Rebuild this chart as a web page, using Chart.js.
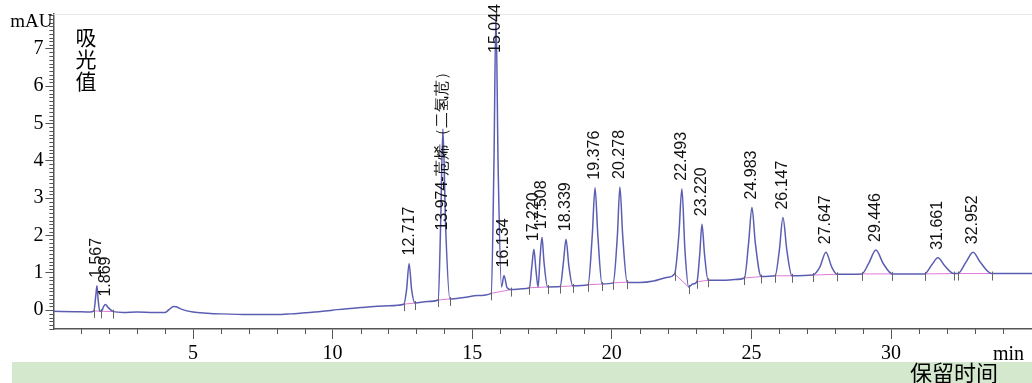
<!DOCTYPE html>
<html>
<head>
<meta charset="utf-8">
<script src="https://cdn.jsdelivr.net/npm/chart.js@4.4.1/dist/chart.umd.min.js"></script>
<style>
  body { margin: 0; background: #fff; }
  canvas { display: block; }
</style>
</head>
<body>
<canvas id="chart" width="1032" height="383"></canvas>
<script>
// chromatogram trace (min, mAU)
const traceTime = [
  0, 0.8, 1.3, 1.45, 1.52, 1.56, 1.6, 1.66, 1.72, 1.8, 1.87, 1.95, 2.15, 2.5, 3.0, 3.6, 4.0,
  4.15, 4.3, 4.4, 4.6, 5.0, 5.5, 6.0, 7.0, 8.0, 8.5, 9.0, 9.5, 10.0, 10.5, 11.0, 11.5, 12.0,
  12.55, 12.65, 12.74, 12.83, 12.95, 13.4, 13.78, 13.87, 13.95, 14.05, 14.2, 14.7, 15.2,
  15.68, 15.78, 15.85, 15.93, 16.05, 16.14, 16.25, 16.4, 16.8, 17.05, 17.14, 17.21, 17.28,
  17.36, 17.43, 17.5, 17.57, 17.7, 18.15, 18.27, 18.36, 18.46, 18.6, 19.15, 19.3, 19.4, 19.5,
  19.65, 20.05, 20.2, 20.29, 20.39, 20.55, 21.0, 21.5, 22.0, 22.25, 22.4, 22.51, 22.62, 22.75,
  22.9, 23.05, 23.15, 23.23, 23.32, 23.45, 24.0, 24.4, 24.75, 24.9, 25.02, 25.14, 25.35,
  25.85, 26.0, 26.13, 26.27, 26.45, 27.2, 27.45, 27.67, 27.88, 28.07, 28.95, 29.2, 29.46,
  29.72, 30.05, 31.2, 31.45, 31.68, 31.93, 32.25, 32.4, 32.68, 32.94, 33.2, 33.6, 35.05
];
const traceAbs = [
  -0.03, -0.04, -0.05, -0.02, 0.4, 0.65, 0.3, -0.02, -0.03, 0.1, 0.15, 0.08, -0.04, -0.06, -0.05, -0.06, -0.06,
  0.02, 0.1, 0.09, 0.02, -0.05, -0.08, -0.1, -0.12, -0.12, -0.1, -0.07, -0.04, 0.0, 0.04, 0.07, 0.1, 0.12,
  0.16, 0.55, 1.25, 0.55, 0.19, 0.23, 0.27, 2.3, 4.85, 2.2, 0.3, 0.34, 0.39,
  0.45, 4.0, 7.9, 3.8, 0.62, 0.93, 0.6, 0.55, 0.57, 0.6, 1.2, 1.63, 1.1,
  0.62, 1.4, 1.95, 1.3, 0.62, 0.63, 1.3, 1.9, 1.2, 0.65, 0.68, 2.0, 3.28, 2.0,
  0.7, 0.73, 2.0, 3.3, 2.0, 0.75, 0.74, 0.78, 0.88, 0.97, 2.0, 3.25, 1.6, 0.62,
  0.7, 0.76, 1.5, 2.3, 1.5, 0.8, 0.8, 0.82, 0.86, 1.8, 2.75, 1.8, 0.9,
  0.92, 1.6, 2.48, 1.6, 0.92, 0.94, 1.15, 1.55, 1.15, 0.96, 0.97, 1.25, 1.61,
  1.25, 0.97, 0.97, 1.2, 1.4, 1.18, 0.98, 0.98, 1.28, 1.55, 1.28, 0.98, 0.98
];

// integration baselines (start / end of each peak group)
const baseStartTime = [1.45, 1.72, 12.55, 13.78, 15.68, 17.05, 18.15, 19.15, 20.05, 22.25, 23.05, 24.75, 25.85, 27.2, 28.95, 31.2, 32.4];
const baseStartAbs  = [-0.02, -0.03, 0.16, 0.27, 0.45, 0.6, 0.63, 0.68, 0.73, 0.97, 0.76, 0.86, 0.92, 0.94, 0.97, 0.97, 0.98];
const baseEndTime   = [1.72, 2.15, 12.95, 14.2, 16.4, 17.7, 18.6, 19.65, 20.55, 22.75, 23.45, 25.35, 26.45, 28.07, 30.05, 32.25, 33.6];
const baseEndAbs    = [-0.03, -0.04, 0.19, 0.3, 0.55, 0.62, 0.65, 0.7, 0.75, 0.62, 0.8, 0.9, 0.92, 0.96, 0.97, 0.98, 0.98];

// peak annotations
const peakTime = [1.56, 1.87, 12.74, 13.95, 15.85, 16.14, 17.21, 17.5, 18.36, 19.4, 20.29, 22.51, 23.23, 25.02, 26.13, 27.67, 29.46, 31.68, 32.94];
const peakTop  = [0.65, 0.15, 1.25, 4.85, 7.9, 0.93, 1.63, 1.95, 1.9, 3.28, 3.3, 3.25, 2.3, 2.75, 2.48, 1.55, 1.61, 1.4, 1.55];
const peakText = ['1.567', '1.869', '12.717', '13.974-苊烯（二氢苊）', '15.044', '16.134', '17.220', '17.508', '18.339',
  '19.376', '20.278', '22.493', '23.220', '24.983', '26.147', '27.647', '29.446', '31.661', '32.952'];

const xTickValues = [5, 10, 15, 20, 25, 30];
const yTickValues = [0, 1, 2, 3, 4, 5, 6, 7];

const AXIS = '#555';
const SERIF = '"Liberation Serif", "Times New Roman", serif';
const CJK = '"Noto Sans CJK SC", sans-serif';

const baseData = [];
baseStartTime.forEach((t, i) => {
  baseData.push({ x: t, y: baseStartAbs[i] });
  baseData.push({ x: baseEndTime[i], y: baseEndAbs[i] });
  baseData.push({ x: baseEndTime[i], y: null });
});

const decor = {
  id: 'decor',
  beforeDraw(chart) {
    const ctx = chart.ctx;
    ctx.save();
    ctx.fillStyle = '#fff';
    ctx.fillRect(0, 0, chart.width, chart.height);
    ctx.fillStyle = '#d3e8cd';
    ctx.fillRect(12, 362, chart.width - 12, chart.height - 362);
    ctx.restore();
  },
  afterDraw(chart) {
    const ctx = chart.ctx;
    const a = chart.chartArea;
    const xs = chart.scales.x, ys = chart.scales.y;
    const opts = chart.options.plugins.decor;
    ctx.save();

    // faint top frame
    ctx.strokeStyle = '#e6e6e6';
    ctx.lineWidth = 1;
    ctx.beginPath();
    ctx.moveTo(a.left, a.top + 0.5);
    ctx.lineTo(a.right, a.top + 0.5);
    ctx.stroke();

    // minor ticks
    ctx.strokeStyle = AXIS;
    ctx.beginPath();
    for (let m = 1; m <= 35; m++) {
      if (m % 5 === 0) continue;
      const px = Math.round(xs.getPixelForValue(m)) + 0.5;
      ctx.moveTo(px, a.bottom);
      ctx.lineTo(px, a.bottom + 5);
    }
    for (let k = -5; k <= 79; k++) {
      if (k % 10 === 0) continue;
      const py = Math.round(ys.getPixelForValue(k / 10)) + 0.5;
      ctx.moveTo(a.left - 4, py);
      ctx.lineTo(a.left, py);
    }
    ctx.stroke();

    // peak boundary marks
    ctx.strokeStyle = '#666';
    ctx.beginPath();
    baseStartTime.concat(baseEndTime).forEach((t, i) => {
      const v = i < baseStartTime.length ? baseStartAbs[i] : baseEndAbs[i - baseStartTime.length];
      const px = Math.round(xs.getPixelForValue(t)) + 0.5;
      const py = ys.getPixelForValue(v);
      ctx.moveTo(px, py - 2);
      ctx.lineTo(px, py + 7);
    });
    ctx.stroke();

    // axis captions
    ctx.fillStyle = '#000';
    ctx.font = '19px ' + SERIF;
    ctx.textAlign = 'right';
    ctx.textBaseline = 'alphabetic';
    ctx.fillText('mAU', a.left - 1, 27);
    ctx.font = '20px ' + SERIF;
    ctx.textAlign = 'left';
    ctx.fillText('min', 993, 360);

    ctx.font = '21px ' + CJK;
    ctx.textAlign = 'center';
    ctx.textBaseline = 'middle';
    ['吸', '光', '值'].forEach((c, i) => ctx.fillText(c, 86, 37 + i * 22));
    ctx.font = '22px ' + CJK;
    ctx.fillText('保留时间', 954, 373);

    // peak labels, rotated
    ctx.font = '16px "Liberation Sans", Arial, sans-serif';
    ctx.fillStyle = '#111';
    ctx.textAlign = 'left';
    ctx.textBaseline = 'middle';
    peakText.forEach((txt, i) => {
      const px = xs.getPixelForValue(peakTime[i]);
      const w = ctx.measureText(txt).width;
      let bottom;
      if (opts.labelBase[i] !== undefined) bottom = ys.getPixelForValue(opts.labelBase[i]);
      else bottom = ys.getPixelForValue(peakTop[i]) - 8;
      if (bottom - w < 4) bottom = 4 + w;
      ctx.save();
      ctx.translate(px, bottom);
      ctx.rotate(-Math.PI / 2);
      ctx.fillText(txt, 0, 0);
      ctx.restore();
    });
    ctx.restore();
  }
};

new Chart(document.getElementById('chart'), {
  type: 'line',
  data: {
    datasets: [
      {
        label: 'signal',
        data: traceTime.map((t, i) => ({ x: t, y: traceAbs[i] })),
        borderColor: '#5b5db2',
        borderWidth: 1.5,
        pointRadius: 0,
        cubicInterpolationMode: 'monotone'
      },
      {
        label: 'baseline',
        data: baseData,
        borderColor: '#e27ad8',
        borderWidth: 1,
        pointRadius: 0,
        spanGaps: false
      }
    ]
  },
  options: {
    responsive: false,
    animation: false,
    layout: { padding: { top: 12, right: 0, left: 0, bottom: 0 } },
    plugins: {
      legend: { display: false },
      tooltip: { enabled: false },
      decor: { labelBase: { 3: 2.13 } }
    },
    scales: {
      x: {
        type: 'linear',
        min: 0,
        max: 35.05,
        afterFit(s) { s.height = 54; },
        afterBuildTicks(s) { s.ticks = xTickValues.map(v => ({ value: v })); },
        grid: { drawOnChartArea: false, tickLength: 10, tickColor: AXIS },
        border: { color: AXIS, width: 1.5 },
        ticks: { color: '#000', font: { family: SERIF, size: 20 }, padding: 3, maxRotation: 0, autoSkip: false }
      },
      y: {
        min: -0.505,
        max: 7.93,
        afterFit(s) { s.width = 53.4; },
        afterBuildTicks(s) { s.ticks = yTickValues.map(v => ({ value: v })); },
        grid: { drawOnChartArea: false, tickLength: 8, tickColor: AXIS },
        border: { color: AXIS, width: 1.5 },
        ticks: { color: '#000', font: { family: SERIF, size: 20 }, padding: 2, autoSkip: false }
      }
    }
  },
  plugins: [decor]
});
</script>
</body>
</html>
